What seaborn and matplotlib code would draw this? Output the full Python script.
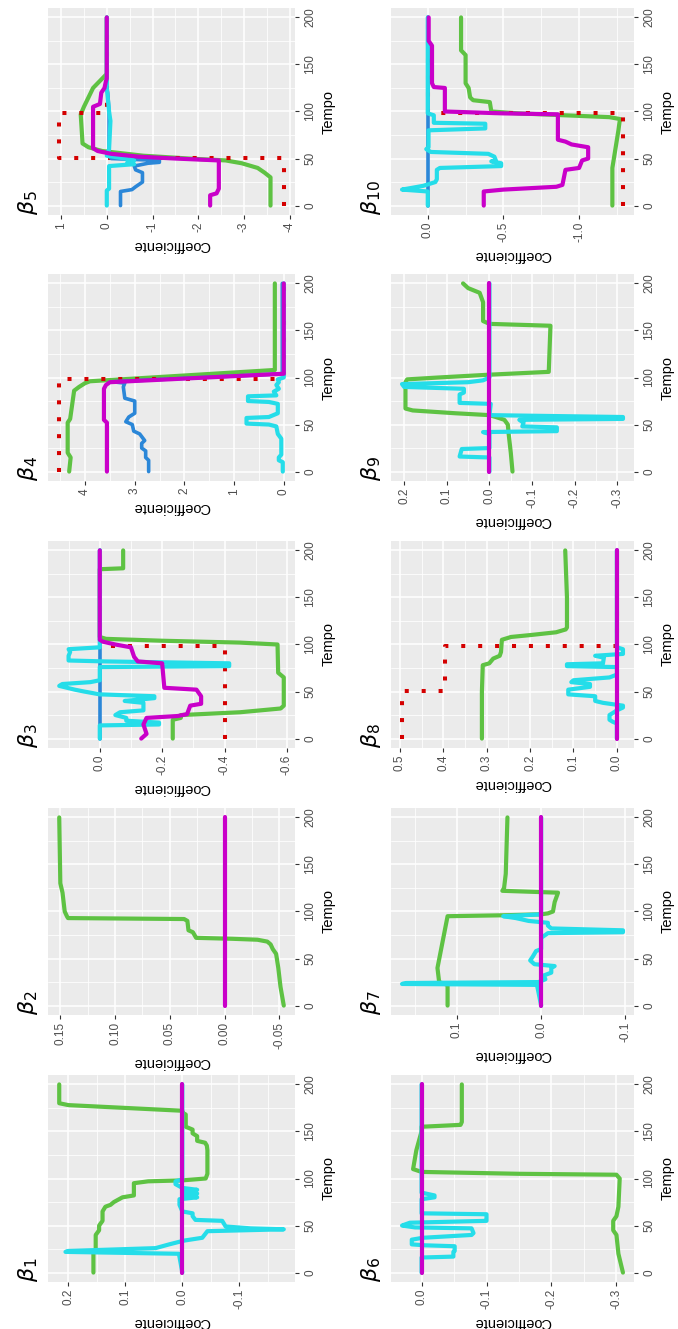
import matplotlib
matplotlib.use("Agg")
import matplotlib.pyplot as plt
from matplotlib.ticker import FixedLocator
import numpy as np
import pandas as pd
import seaborn as sns

# ---------------- data: estimated coefficient paths over time ----------------
# beta 1
b1_green_t = [0, 20, 25, 40, 45, 50, 55, 65, 70, 72, 75, 80, 82, 95, 97, 98, 100, 105, 130, 135, 138, 140, 145, 148, 152, 155, 168, 170, 172, 178, 180, 200]
b1_green_v = [0.156, 0.156, 0.152, 0.152, 0.146, 0.146, 0.14, 0.14, 0.135, 0.126, 0.12, 0.105, 0.085, 0.085, 0.06, 0.0, -0.041, -0.044, -0.044, -0.043, -0.04, -0.026, -0.026, -0.018, -0.018, -0.006, -0.006, 0.0, 0.0, 0.2, 0.216, 0.216]
b1_cyan_t = [0, 20, 22, 23, 26, 30, 34, 37, 44, 46, 47, 49, 55, 56, 60, 63, 65, 72, 78, 80, 82, 84, 86, 88, 90, 94, 97, 99, 200]
b1_cyan_v = [0, 0.006, 0.205, 0.2, 0.047, 0.023, -0.003, -0.035, -0.044, -0.178, -0.12, -0.076, -0.07, -0.023, -0.018, -0.018, 0.0, 0.005, 0.005, -0.026, 0.0, -0.026, 0.0, -0.026, 0.0, 0.012, 0.012, 0.0, 0.0]
b1_mag_t = [0, 200]
b1_mag_v = [0.0, 0.0]

# beta 2
b2_green_t = [0, 20, 40, 55, 60, 65, 68, 70, 71, 72, 78, 80, 90, 92, 93, 95, 100, 110, 120, 130, 200]
b2_green_v = [-0.054, -0.051, -0.049, -0.047, -0.044, -0.042, -0.039, -0.03, -0.007, 0.026, 0.029, 0.033, 0.034, 0.037, 0.143, 0.144, 0.146, 0.147, 0.148, 0.15, 0.151]
b2_mag_t = [0, 200]
b2_mag_v = [0.0, 0.0]

# beta 3
b3_true_t = [0, 98, 98, 200]
b3_true_v = [-0.40, -0.40, 0.0, 0.0]
b3_green_t = [0, 20, 22, 25, 28, 32, 35, 65, 70, 100, 102, 104, 106, 108, 180, 181, 200]
b3_green_v = [-0.234, -0.234, -0.26, -0.26, -0.45, -0.58, -0.59, -0.59, -0.572, -0.57, -0.45, -0.2, -0.02, 0.0, 0.0, -0.075, -0.075]
b3_mag_t = [0, 5, 15, 22, 24, 26, 35, 37, 45, 52, 54, 80, 82, 87, 97, 100, 103, 105, 200]
b3_mag_v = [-0.133, -0.15, -0.14, -0.15, -0.25, -0.28, -0.29, -0.325, -0.325, -0.31, -0.207, -0.2, -0.122, -0.11, -0.1, -0.05, -0.01, 0.0, 0.0]
b3_blue_t = [0, 200]
b3_blue_v = [0.0, 0.0]
b3_cyan_t = [0, 14, 15, 17, 19, 22, 25, 28, 30, 38, 40, 43, 45, 47, 50, 52, 56, 58, 60, 62, 76, 77, 80, 82, 83, 88, 92, 95, 97, 200]
b3_cyan_v = [0, 0, -0.19, -0.19, -0.085, -0.085, -0.05, -0.065, -0.14, -0.14, -0.08, -0.175, -0.175, 0.0, 0.05, 0.08, 0.13, 0.12, 0.03, 0.0, 0.0, -0.415, -0.415, -0.02, 0.1, 0.1, 0.095, 0.1, 0.0, 0.0]

# beta 4
b4_true_t = [0, 98, 98, 200]
b4_true_v = [4.52, 4.52, 0.0, 0.0]
b4_green_t = [0, 15, 20, 52, 56, 86, 90, 94, 96, 108, 200]
b4_green_v = [4.32, 4.29, 4.35, 4.35, 4.3, 4.22, 4.12, 4.0, 3.9, 0.18, 0.18]
b4_mag_t = [0, 52, 55, 88, 92, 95, 104, 200]
b4_mag_v = [3.56, 3.56, 3.62, 3.62, 3.58, 3.5, 0.0, 0.0]
b4_blue_t = [0, 12, 15, 22, 25, 30, 33, 40, 43, 50, 53, 58, 62, 75, 78, 90, 94, 95.5, 104, 200]
b4_blue_v = [2.72, 2.72, 2.78, 2.78, 2.86, 2.86, 2.8, 2.9, 3.02, 3.05, 3.18, 3.12, 3.0, 3.0, 3.2, 3.23, 3.2, 3.45, 0.03, 0.03]
b4_cyan_t = [0, 10, 12, 15, 18, 35, 40, 48, 50, 51, 57, 58, 62, 72, 74, 75, 80, 81, 85, 88, 92, 95, 98, 100, 200]
b4_cyan_v = [0.02, 0.02, 0.1, 0.1, 0.05, 0.05, 0.12, 0.15, 0.3, 0.75, 0.75, 0.3, 0.12, 0.12, 0.3, 0.72, 0.72, 0.15, 0.2, 0.1, 0.15, 0.1, 0.12, 0.0, 0.0]

# beta 5
b5_true_t = [0, 50.5, 50.5, 98, 98, 200]
b5_true_v = [-3.87, -3.87, 1.04, 1.04, 0.0, 0.0]
b5_green_t = [0, 30, 35, 40, 45, 48, 50, 53, 58, 62, 66, 97, 105, 115, 125, 130, 135, 140, 200]
b5_green_v = [-3.58, -3.58, -3.45, -3.3, -2.95, -2.6, -1.8, -0.8, 0.1, 0.4, 0.53, 0.57, 0.5, 0.4, 0.3, 0.2, 0.1, 0.0, 0.0]
b5_mag_t = [0, 11, 13, 18, 48, 50, 52, 55, 58, 61, 105, 108, 120, 125, 132, 135, 200]
b5_mag_v = [-2.26, -2.26, -2.4, -2.45, -2.45, -1.5, -0.7, -0.1, 0.2, 0.3, 0.3, 0.15, 0.12, 0.05, 0.02, 0.0, 0.0]
b5_blue_t = [0, 15, 17, 20, 25, 35, 38, 42, 45, 46, 48, 50, 55, 60, 100, 120, 125, 200]
b5_blue_v = [-0.3, -0.3, -0.55, -0.63, -0.78, -0.78, -0.63, -0.6, -0.9, -1.15, -1.15, -0.1, 0.0, -0.05, -0.05, -0.02, 0.0, 0.0]
b5_cyan_t = [0, 16, 18, 42, 44, 46, 48, 50, 53, 60, 90, 100, 125, 200]
b5_cyan_v = [0, 0, -0.05, -0.05, -0.6, -0.45, -0.6, -0.4, 0.0, -0.05, -0.08, -0.05, 0.0, 0.0]

# beta 6
b6_green_t = [0, 20, 40, 45, 55, 60, 70, 100, 104, 105, 107, 110, 130, 150, 155, 157, 160, 200]
b6_green_v = [-0.31, -0.303, -0.3, -0.295, -0.295, -0.3, -0.303, -0.305, -0.3, -0.15, 0.0, 0.013, 0.008, 0.0, 0.0, -0.06, -0.062, -0.062]
b6_cyan_t = [0, 16, 17, 22, 23, 28, 29, 30, 35, 37, 40, 42, 47, 48, 50, 53, 55, 56, 62, 63, 78, 80, 82, 85, 86, 200]
b6_cyan_v = [0, 0, -0.049, -0.049, -0.051, -0.051, -0.005, 0.015, 0.015, -0.002, -0.077, -0.08, -0.077, 0.01, 0.03, 0.018, -0.1, -0.1, -0.1, 0.0, 0.0, -0.02, -0.02, 0.0, 0.0, 0.0]
b6_mag_t = [0, 200]
b6_mag_v = [0.0, 0.0]

# beta 7
b7_green_t = [0, 22, 25, 40, 95, 96, 97, 98, 100, 110, 120, 122, 125, 140, 200]
b7_green_v = [0.111, 0.111, 0.121, 0.123, 0.111, 0.044, 0.0, -0.008, -0.014, -0.016, -0.02, 0.046, 0.044, 0.042, 0.04]
b7_cyan_t = [0, 22, 23, 24, 25, 28, 32, 35, 40, 42, 44, 48, 52, 58, 60, 72, 77, 78, 80, 82, 85, 88, 90, 93, 95, 97, 200]
b7_cyan_v = [0, 0.005, 0.165, 0.16, 0.003, -0.005, -0.003, -0.012, -0.012, -0.016, 0.008, 0.013, 0.01, 0.006, 0.0, 0.0, -0.008, -0.097, -0.097, -0.012, -0.008, -0.008, 0.015, 0.03, 0.045, 0.0, 0.0]
b7_mag_t = [0, 200]
b7_mag_v = [0.0, 0.0]

# beta 8
b8_true_t = [0, 50.5, 50.5, 98, 98, 200]
b8_true_v = [0.495, 0.495, 0.396, 0.396, 0.0, 0.0]
b8_green_t = [0, 50, 78, 80, 85, 88, 92, 105, 108, 110, 113, 116, 118, 150, 200]
b8_green_v = [0.311, 0.311, 0.309, 0.294, 0.285, 0.27, 0.267, 0.265, 0.244, 0.2, 0.14, 0.118, 0.115, 0.115, 0.119]
b8_cyan_t = [0, 16, 18, 20, 25, 30, 33, 35, 38, 40, 45, 47, 52, 55, 58, 60, 62, 65, 68, 76, 77, 79, 80, 86, 88, 90, 95, 97, 200]
b8_cyan_v = [0, 0, 0.01, 0.017, 0.017, 0.0, -0.014, -0.014, 0.032, 0.05, 0.05, 0.112, 0.112, 0.062, 0.062, 0.105, 0.1, 0.017, 0.0, 0.0, 0.115, 0.115, 0.032, 0.03, 0.05, -0.014, -0.014, 0.0, 0.0]
b8_mag_t = [0, 200]
b8_mag_v = [0.0, 0.0]

# beta 9
b9_green_t = [0, 20, 40, 50, 55, 58, 60, 62, 65, 67, 95, 98, 100, 103, 106, 155, 157, 160, 180, 190, 195, 200]
b9_green_v = [-0.054, -0.05, -0.045, -0.043, -0.035, -0.015, 0.0, 0.08, 0.18, 0.197, 0.197, 0.193, 0.12, 0.0, -0.139, -0.143, 0.0, 0.015, 0.015, 0.023, 0.05, 0.062]
b9_cyan_t = [0, 15, 16, 24, 25, 40, 42, 43, 47, 48, 52, 55, 56, 58, 60, 72, 73, 82, 84, 88, 90, 93, 95, 97, 100, 200]
b9_cyan_v = [0, 0, 0.07, 0.065, 0.0, 0.0, 0.015, -0.158, -0.158, -0.077, -0.08, -0.07, -0.313, -0.313, 0.0, -0.003, 0.07, 0.07, 0.06, 0.06, 0.2, 0.205, 0.05, 0.015, 0.0, 0.0]
b9_mag_t = [0, 200]
b9_mag_v = [0.0, 0.0]

# beta 10
b10_true_t = [0, 98, 98, 200]
b10_true_v = [-1.29, -1.29, 0.0, 0.0]
b10_green_t = [0, 40, 60, 80, 92, 94, 96, 98, 100, 110, 112, 115, 125, 130, 160, 165, 200]
b10_green_v = [-1.22, -1.22, -1.24, -1.26, -1.27, -1.2, -0.9, -0.6, -0.42, -0.41, -0.3, -0.28, -0.27, -0.25, -0.25, -0.22, -0.22]
b10_mag_t = [0, 15, 17, 20, 22, 38, 40, 48, 50, 62, 65, 68, 70, 97, 98, 100, 125, 126, 130, 170, 175, 200]
b10_mag_v = [-0.37, -0.37, -0.5, -0.85, -0.89, -0.91, -1.0, -1.02, -1.06, -1.06, -0.95, -0.91, -0.86, -0.86, -0.5, -0.113, -0.113, -0.04, -0.028, -0.028, -0.006, -0.006]
b10_blue_t = [0, 200]
b10_blue_v = [0.0, 0.0]
b10_cyan_t = [0, 15, 17, 19, 21, 25, 28, 38, 40, 42, 45, 47, 48, 52, 55, 57, 60, 62, 80, 82, 87, 88, 96, 98, 200]
b10_cyan_v = [0, 0, 0.17, 0.1, 0.03, -0.05, -0.06, -0.06, -0.08, -0.485, -0.485, -0.42, -0.45, -0.44, -0.4, -0.02, 0.01, -0.005, -0.005, -0.38, -0.38, -0.04, -0.04, 0.0, 0.0]

# axis breaks (coefficient) and their labels
b1_ticks, b1_labels = [-0.1, 0.0, 0.1, 0.2], ["-0.1", "0.0", "0.1", "0.2"]
b2_ticks, b2_labels = [-0.05, 0.0, 0.05, 0.10, 0.15], ["-0.05", "0.00", "0.05", "0.10", "0.15"]
b3_ticks, b3_labels = [-0.6, -0.4, -0.2, 0.0], ["-0.6", "-0.4", "-0.2", "0.0"]
b4_ticks, b4_labels = [0, 1, 2, 3, 4], ["0", "1", "2", "3", "4"]
b5_ticks, b5_labels = [-4, -3, -2, -1, 0, 1], ["-4", "-3", "-2", "-1", "0", "1"]
b6_ticks, b6_labels = [-0.3, -0.2, -0.1, 0.0], ["-0.3", "-0.2", "-0.1", "0.0"]
b7_ticks, b7_labels = [-0.1, 0.0, 0.1], ["-0.1", "0.0", "0.1"]
b8_ticks, b8_labels = [0.0, 0.1, 0.2, 0.3, 0.4, 0.5], ["0.0", "0.1", "0.2", "0.3", "0.4", "0.5"]
b9_ticks, b9_labels = [-0.3, -0.2, -0.1, 0.0, 0.1, 0.2], ["-0.3", "-0.2", "-0.1", "0.0", "0.1", "0.2"]
b10_ticks, b10_labels = [-1.0, -0.5, 0.0], ["-1.0", "-0.5", "0.0"]

time_ticks = [0, 50, 100, 150, 200]
time_labels = ["0", "50", "100", "150", "200"]

# ---------------- styling ----------------
GREEN = "#5EC243"
CYAN = "#25DDE9"
BLUE = "#2B87D8"
MAGENTA = "#C900C9"
RED = "#D40000"

STYLE = {
    "green": dict(color=GREEN, linewidth=3.0),
    "blue": dict(color=BLUE, linewidth=2.6),
    "cyan": dict(color=CYAN, linewidth=3.0),
    "magenta": dict(color=MAGENTA, linewidth=3.0),
    "true": dict(color=RED, linewidth=2.9, linestyle=(0, (1, 3.2))),
}
# the true path sits under the estimated paths that run along zero
DRAW_ORDER = ["green", "true", "blue", "cyan", "magenta"]

panels = [
    (1, {"green": (b1_green_t, b1_green_v), "cyan": (b1_cyan_t, b1_cyan_v), "magenta": (b1_mag_t, b1_mag_v)}, b1_ticks, b1_labels),
    (2, {"green": (b2_green_t, b2_green_v), "magenta": (b2_mag_t, b2_mag_v)}, b2_ticks, b2_labels),
    (3, {"green": (b3_green_t, b3_green_v), "blue": (b3_blue_t, b3_blue_v), "cyan": (b3_cyan_t, b3_cyan_v),
         "magenta": (b3_mag_t, b3_mag_v), "true": (b3_true_t, b3_true_v)}, b3_ticks, b3_labels),
    (4, {"green": (b4_green_t, b4_green_v), "blue": (b4_blue_t, b4_blue_v), "cyan": (b4_cyan_t, b4_cyan_v),
         "magenta": (b4_mag_t, b4_mag_v), "true": (b4_true_t, b4_true_v)}, b4_ticks, b4_labels),
    (5, {"green": (b5_green_t, b5_green_v), "blue": (b5_blue_t, b5_blue_v), "cyan": (b5_cyan_t, b5_cyan_v),
         "magenta": (b5_mag_t, b5_mag_v), "true": (b5_true_t, b5_true_v)}, b5_ticks, b5_labels),
    (6, {"green": (b6_green_t, b6_green_v), "cyan": (b6_cyan_t, b6_cyan_v), "magenta": (b6_mag_t, b6_mag_v)}, b6_ticks, b6_labels),
    (7, {"green": (b7_green_t, b7_green_v), "cyan": (b7_cyan_t, b7_cyan_v), "magenta": (b7_mag_t, b7_mag_v)}, b7_ticks, b7_labels),
    (8, {"green": (b8_green_t, b8_green_v), "cyan": (b8_cyan_t, b8_cyan_v), "magenta": (b8_mag_t, b8_mag_v),
         "true": (b8_true_t, b8_true_v)}, b8_ticks, b8_labels),
    (9, {"green": (b9_green_t, b9_green_v), "cyan": (b9_cyan_t, b9_cyan_v), "magenta": (b9_mag_t, b9_mag_v)}, b9_ticks, b9_labels),
    (10, {"green": (b10_green_t, b10_green_v), "blue": (b10_blue_t, b10_blue_v), "cyan": (b10_cyan_t, b10_cyan_v),
          "magenta": (b10_mag_t, b10_mag_v), "true": (b10_true_t, b10_true_v)}, b10_ticks, b10_labels),
]

sns.set_theme(style="darkgrid")
plt.rcParams["font.family"] = ["Liberation Sans", "DejaVu Sans"]
plt.rcParams["mathtext.fontset"] = "dejavusans"

W_PX, H_PX = 678, 1329
fig = plt.figure(figsize=(W_PX / 100, H_PX / 100), dpi=100)
fig.patch.set_facecolor("white")

# page layout (pixels): the panel grid is turned a quarter turn, so the
# time axis runs upward and beta_1 .. beta_5 stack from the bottom up.
COL_X = {0: (48, 295), 1: (391, 634)}
ROW_TOP = [1075, 808, 541, 274, 8]   # index = position within a column, bottom first
PANEL_H = 207

for k, series, ticks, labels in panels:
    col = 0 if k <= 5 else 1
    row = (k - 1) % 5
    x0, x1 = COL_X[col]
    top = ROW_TOP[row]
    ax = fig.add_axes([x0 / W_PX, 1 - (top + PANEL_H) / H_PX, (x1 - x0) / W_PX, PANEL_H / H_PX])
    ax.set_facecolor("#EBEBEB")

    all_v = []
    for kind in DRAW_ORDER:
        if kind not in series:
            continue
        t, v = series[kind]
        all_v.extend(v)
        df = pd.DataFrame({"Tempo": t, "Coefficiente": v})
        lines_before = len(ax.lines)
        sns.lineplot(data=df, x="Coefficiente", y="Tempo", sort=False, estimator=None,
                     ax=ax, **STYLE[kind])
        for ln in ax.lines[lines_before:]:
            ln.set_solid_joinstyle("round")
            ln.set_dash_capstyle("butt")

    lo, hi = min(all_v), max(all_v)
    span = hi - lo
    xlo, xhi = lo - 0.05 * span, hi + 0.05 * span
    ax.set_xlim(xhi, xlo)
    ax.set_ylim(-10, 210)

    step = ticks[1] - ticks[0]
    minors = [m for m in np.arange(ticks[0] - step / 2, ticks[-1] + step, step) if xlo <= m <= xhi]
    ax.xaxis.set_major_locator(FixedLocator(ticks))
    ax.xaxis.set_minor_locator(FixedLocator(minors))
    ax.set_xticklabels(labels)
    ax.yaxis.set_major_locator(FixedLocator(time_ticks))
    ax.yaxis.set_minor_locator(FixedLocator([25, 75, 125, 175]))
    ax.set_yticklabels(time_labels)
    ax.yaxis.tick_right()
    ax.yaxis.set_label_position("right")

    for s in ax.spines.values():
        s.set_visible(False)
    ax.grid(which="major", color="white", linewidth=1.1)
    ax.grid(which="minor", color="white", linewidth=0.55)
    ax.set_axisbelow(True)

    ax.tick_params(which="major", length=3, width=0.8, color="#333333",
                   labelcolor="#4D4D4D", labelsize=8.5)
    ax.tick_params(which="minor", length=0)
    ax.tick_params(axis="x", bottom=True, labelrotation=90, pad=2)
    ax.tick_params(axis="y", left=False, right=True, labelrotation=90, pad=3.5)
    for lab in ax.get_yticklabels():
        lab.set_verticalalignment("center")

    ax.set_xlabel("Coefficiente", rotation=180, fontsize=10.5, color="black", labelpad=4)
    ax.set_ylabel("Tempo", rotation=90, fontsize=10.5, color="black", labelpad=4)

    fig.text((x0 - 20) / W_PX, 1 - (top + PANEL_H) / H_PX, rf"$\beta_{{{k}}}$",
             rotation=90, ha="center", va="bottom", fontsize=16, color="black")

fig.savefig("out.png", dpi=100, facecolor="white")
